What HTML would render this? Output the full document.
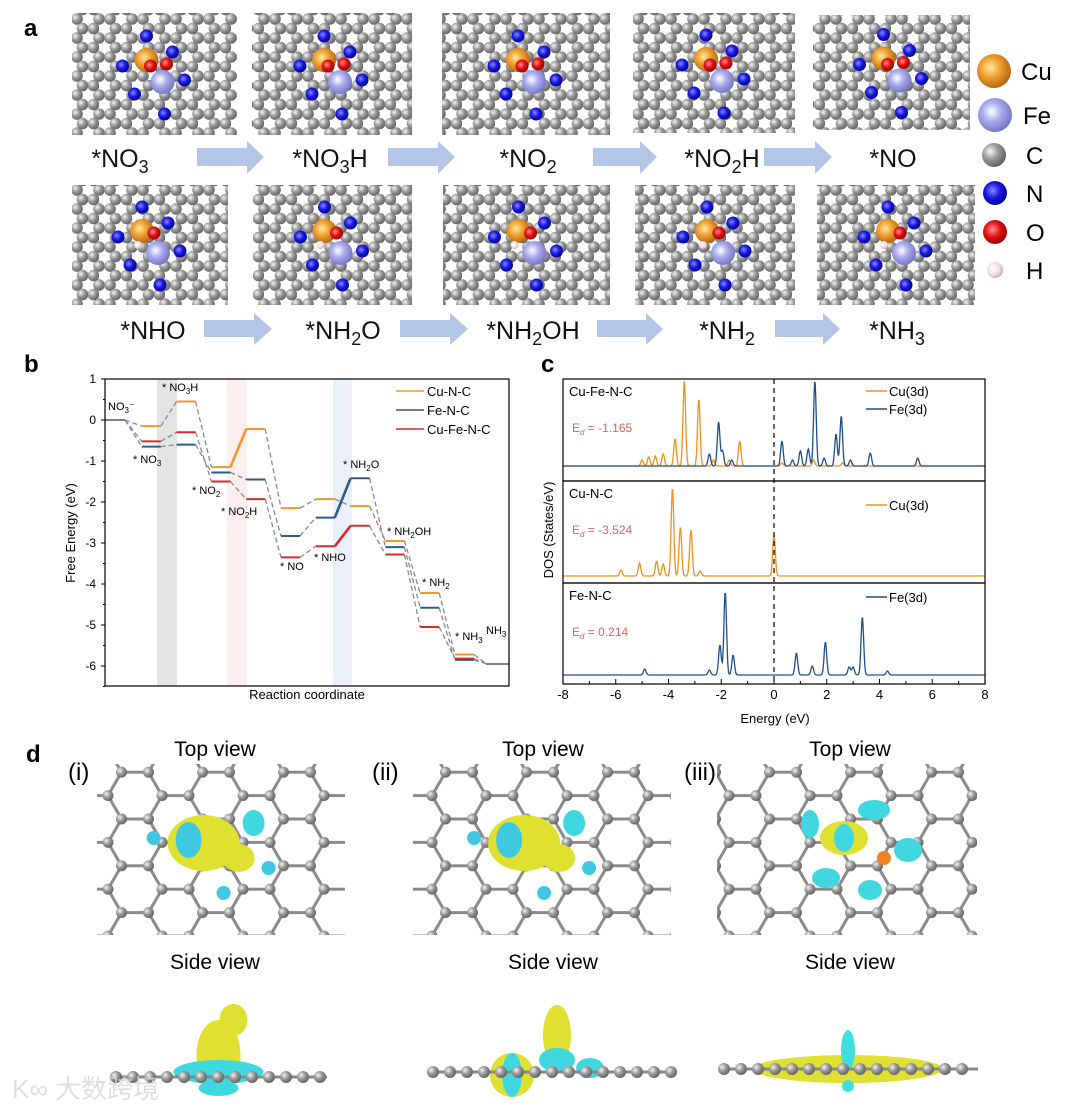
<!DOCTYPE html>
<html><head><meta charset="utf-8"><style>
html,body{margin:0;padding:0;background:#fff;}
svg{display:block;font-family:"Liberation Sans",Arial,sans-serif;}
</style></head><body>
<svg id="fig" width="1073" height="1106" viewBox="0 0 1073 1106" xmlns="http://www.w3.org/2000/svg">
<defs>
<radialGradient id="gC" cx="35%" cy="35%" r="65%"><stop offset="0" stop-color="#f4f4f4"/><stop offset="0.5" stop-color="#9a9a9a"/><stop offset="1" stop-color="#666"/></radialGradient>
<radialGradient id="gCu" cx="40%" cy="40%" r="65%"><stop offset="0" stop-color="#ffe9a0"/><stop offset="0.45" stop-color="#f0a030"/><stop offset="1" stop-color="#b06010"/></radialGradient>
<radialGradient id="gFe" cx="40%" cy="40%" r="65%"><stop offset="0" stop-color="#ffffff"/><stop offset="0.45" stop-color="#a8aaee"/><stop offset="1" stop-color="#7072c0"/></radialGradient>
<radialGradient id="gN" cx="40%" cy="40%" r="65%"><stop offset="0" stop-color="#8888ff"/><stop offset="0.5" stop-color="#1818e0"/><stop offset="1" stop-color="#000090"/></radialGradient>
<radialGradient id="gO" cx="40%" cy="40%" r="65%"><stop offset="0" stop-color="#ff9090"/><stop offset="0.5" stop-color="#e01010"/><stop offset="1" stop-color="#900000"/></radialGradient>
<radialGradient id="gH" cx="40%" cy="40%" r="65%"><stop offset="0" stop-color="#fff"/><stop offset="0.6" stop-color="#f2dcdc"/><stop offset="1" stop-color="#c8a8a8"/></radialGradient>
<pattern id="ball" width="33" height="19" patternUnits="userSpaceOnUse">
<circle cx="0" cy="0" r="5.8" fill="url(#gC)"/><circle cx="33" cy="0" r="5.8" fill="url(#gC)"/><circle cx="11" cy="0" r="5.8" fill="url(#gC)"/>
<circle cx="0" cy="19" r="5.8" fill="url(#gC)"/><circle cx="33" cy="19" r="5.8" fill="url(#gC)"/><circle cx="11" cy="19" r="5.8" fill="url(#gC)"/>
<circle cx="16.5" cy="9.5" r="5.8" fill="url(#gC)"/><circle cx="27.5" cy="9.5" r="5.8" fill="url(#gC)"/>
</pattern>
<pattern id="hex" width="81" height="46.8" patternUnits="userSpaceOnUse" x="0" y="0">
<g stroke="#8a8a8a" stroke-width="3" fill="none">
<line x1="0" y1="0" x2="27" y2="0"/><line x1="27" y1="0" x2="40.5" y2="23.4"/><line x1="40.5" y1="23.4" x2="67.5" y2="23.4"/><line x1="67.5" y1="23.4" x2="81" y2="0"/><line x1="67.5" y1="23.4" x2="81" y2="46.8"/><line x1="40.5" y1="23.4" x2="27" y2="46.8"/><line x1="0" y1="46.8" x2="27" y2="46.8"/><line x1="0" y1="0" x2="-13.5" y2="23.4"/><line x1="0" y1="46.8" x2="-13.5" y2="23.4"/>
</g>
<g fill="url(#gC)"><circle cx="0" cy="0" r="5.5"/><circle cx="27" cy="0" r="5.5"/><circle cx="81" cy="0" r="5.5"/><circle cx="40.5" cy="23.4" r="5.5"/><circle cx="67.5" cy="23.4" r="5.5"/><circle cx="0" cy="46.8" r="5.5"/><circle cx="27" cy="46.8" r="5.5"/><circle cx="81" cy="46.8" r="5.5"/></g>
</pattern>
</defs>

<!-- Panel a -->
<text x="24" y="36" font-size="24" font-weight="bold">a</text>
<g id="tiles"></g>
<g font-size="25" fill="#111">
<text x="120" y="167" text-anchor="middle">*NO<tspan font-size="18" dy="6">3</tspan></text>
<text x="330" y="167" text-anchor="middle">*NO<tspan font-size="18" dy="6">3</tspan><tspan dy="-6">H</tspan></text>
<text x="528" y="167" text-anchor="middle">*NO<tspan font-size="18" dy="6">2</tspan></text>
<text x="722" y="167" text-anchor="middle">*NO<tspan font-size="18" dy="6">2</tspan><tspan dy="-6">H</tspan></text>
<text x="893" y="167" text-anchor="middle">*NO</text>
<text x="153" y="339" text-anchor="middle">*NHO</text>
<text x="343" y="339" text-anchor="middle">*NH<tspan font-size="18" dy="6">2</tspan><tspan dy="-6">O</tspan></text>
<text x="533" y="339" text-anchor="middle">*NH<tspan font-size="18" dy="6">2</tspan><tspan dy="-6">OH</tspan></text>
<text x="727" y="339" text-anchor="middle">*NH<tspan font-size="18" dy="6">2</tspan></text>
<text x="897" y="339" text-anchor="middle">*NH<tspan font-size="18" dy="6">3</tspan></text>
</g>
<g fill="#b4c6e7">
<polygon points="197,148 247,148 247,141 264,157 247,174 247,166 197,166"/>
<polygon points="388,148 438,148 438,141 455,157 438,174 438,166 388,166"/>
<polygon points="593,148 640,148 640,141 657,157 640,174 640,166 593,166"/>
<polygon points="764,148 815,148 815,141 832,157 815,174 815,166 764,166"/>
<polygon points="204,320 254,320 254,313 272,329 254,345 254,337 204,337"/>
<polygon points="400,320 450,320 450,313 468,329 450,345 450,337 400,337"/>
<polygon points="597,320 646,320 646,313 663,329 646,345 646,337 597,337"/>
<polygon points="775,320 823,320 823,313 840,329 823,345 823,337 775,337"/>
</g>
<g font-size="24">
<circle cx="994" cy="71" r="17" fill="url(#gCu)"/><text x="1021" y="80">Cu</text>
<circle cx="995" cy="115" r="17" fill="url(#gFe)"/><text x="1023" y="124">Fe</text>
<circle cx="994" cy="155" r="12" fill="url(#gC)"/><text x="1026" y="164">C</text>
<circle cx="995" cy="193" r="12" fill="url(#gN)"/><text x="1026" y="202">N</text>
<circle cx="995" cy="232" r="12" fill="url(#gO)"/><text x="1026" y="241">O</text>
<circle cx="995" cy="270" r="8" fill="url(#gH)"/><text x="1026" y="279">H</text>
</g>

<!-- Panel b -->
<text x="24" y="372" font-size="24" font-weight="bold">b</text>
<g id="pb"></g>

<!-- Panel c -->
<text x="541" y="372" font-size="24" font-weight="bold">c</text>
<g id="pc"></g>

<!-- Panel d -->
<text x="26" y="762" font-size="24" font-weight="bold">d</text>
<g id="pd"></g>
<text x="12" y="1098" font-size="26" fill="#d8d8d8" opacity="0.8">K∞ 大数跨境</text>
</svg>
<script>
const NS="http://www.w3.org/2000/svg";
function mk(tag,attrs,parent){const e=document.createElementNS(NS,tag);for(const k in attrs)e.setAttribute(k,attrs[k]);if(parent)parent.appendChild(e);return e;}

/* ---------- panel a tiles ---------- */
const tileBoxes=[[72,13,165,122],[252,13,160,122],[442,13,168,122],[633,13,162,120],[813,15,157,115],
[72,185,156,120],[253,185,159,120],[443,185,167,120],[635,185,160,120],[817,185,158,120]];
const tilesG=document.getElementById('tiles');
tileBoxes.forEach((b,i)=>{
  const r=mk('rect',{x:b[0],y:b[1],width:b[2],height:b[3],fill:'url(#ball)'},tilesG);
  
  
  const cx=b[0]+b[2]*0.5, cy=b[1]+b[3]*0.5;
  mk('circle',{cx:cx-8,cy:cy-14,r:12,fill:'url(#gCu)'},tilesG);
  mk('circle',{cx:cx+8,cy:cy+8,r:12,fill:'url(#gFe)'},tilesG);
  [[-8,-38],[-32,-8],[18,-22],[30,6],[-20,20],[10,40]].forEach(p=>mk('circle',{cx:cx+p[0],cy:cy+p[1],r:6.5,fill:'url(#gN)'},tilesG));
  if(i<5){mk('circle',{cx:cx-4,cy:cy-8,r:6.5,fill:'url(#gO)'},tilesG);mk('circle',{cx:cx+12,cy:cy-10,r:6.5,fill:'url(#gO)'},tilesG);}
  else {mk('circle',{cx:cx+4,cy:cy-12,r:6.5,fill:'url(#gO)'},tilesG);mk('circle',{cx:cx-12,cy:cy,r:4,fill:'url(#gH)'},tilesG);}
});

/* ---------- panel b data ---------- */
const steps=["NO3-","*NO3","*NO3H","*NO2","*NO2H","*NO","*NHO","*NH2O","*NH2OH","*NH2","*NH3","NH3"];
const cuNC=[0,-0.15,0.45,-1.15,-0.22,-2.15,-1.93,-2.1,-2.95,-4.22,-5.72,-5.95];
const feNC=[0,-0.65,-0.6,-1.28,-1.45,-2.83,-2.38,-1.42,-3.1,-4.58,-5.85,-5.95];
const cuFeNC=[0,-0.52,-0.3,-1.5,-1.93,-3.35,-3.08,-2.58,-3.28,-5.05,-5.82,-5.95];
const yTicksB=[1,0,-1,-2,-3,-4,-5,-6];
const pbSeries=[{name:'Cu-N-C',v:cuNC,c:'#f0962a',solid:[3]},{name:'Fe-N-C',v:feNC,c:'#2e5a8a',solid:[6]},{name:'Cu-Fe-N-C',v:cuFeNC,c:'#d42a2a',solid:[6]}];
const B={l:105,r:509,t:379,b:686};
const by=v=>420-41*v;
const bx=i=>107+34.8*i;
const pb=document.getElementById('pb');
[[157,20,'#e4e4e4'],[227,20,'#fdeeee'],[333,19,'#eaf0fa']].forEach((s,i)=>{const r=mk('rect',{x:s[0],y:B.t,width:s[1],height:B.b-B.t,fill:s[2]},pb);});
pbSeries.forEach(s=>{
  for(let i=0;i<steps.length-1;i++){
    const x1=(i===0?125:bx(i)+19), x2=bx(i+1)+(i+1===steps.length-1?-3:0);
    const solid=s.solid.includes(i);
    const ln=mk('line',{x1:x1,y1:by(s.v[i]),x2:x2,y2:by(s.v[i+1]),stroke:solid?s.c:'#8a8a8a','stroke-width':solid?2.6:1.3,'stroke-dasharray':solid?'none':'5,3'},pb);
    
    
  }
});
pbSeries.forEach(s=>{
  for(let i=1;i<steps.length-1;i++){
    const ln=mk('line',{x1:bx(i),y1:by(s.v[i]),x2:bx(i)+19,y2:by(s.v[i]),stroke:s.c,'stroke-width':2},pb);
    
    
  }
});
[[105,125,0],[486,509,11]].forEach(a=>{const ln=mk('line',{x1:a[0],y1:by(cuNC[a[2]]),x2:a[1],y2:by(cuNC[a[2]]),stroke:'#808080','stroke-width':2},pb);});
const frame=mk('rect',{x:B.l,y:B.t,width:B.r-B.l,height:B.b-B.t,fill:'none',stroke:'#000','stroke-width':1.2},pb);

yTicksB.forEach(v=>{
  mk('line',{x1:B.l,y1:by(v),x2:B.l-4,y2:by(v),stroke:'#000'},pb);
  const t=mk('text',{x:B.l-9,y:by(v)+4,'font-size':12,'text-anchor':'end'},pb);t.textContent=v;
  
  mk('line',{x1:B.l,y1:by(v-0.5),x2:B.l-2,y2:by(v-0.5),stroke:'#000'},pb);
});
let t=mk('text',{x:0,y:0,'font-size':13,'text-anchor':'middle',transform:'translate(75,533) rotate(-90)'},pb);t.textContent='Free Energy (eV)';

t=mk('text',{x:307,y:699,'font-size':13,'text-anchor':'middle'},pb);t.textContent='Reaction coordinate';

const stepLabels=[["NO3⁻",108,410],["* NO3",133,463],["* NO3H",162,391],["* NO2",192,494],["* NO2H",221,515],["* NO",280,570],["* NHO",314,561],["* NH2O",343,468],["* NH2OH",387,535],["* NH2",422,586],["* NH3",455,640],["NH3",486,634]];
stepLabels.forEach(s=>{
  const tx=mk('text',{x:s[1],y:s[2],'font-size':11},pb);
  const m=s[0].match(/^(.*?)(\d)(.*)$/);
  if(m){tx.textContent=m[1];const sub=mk('tspan',{'font-size':8,dy:3},tx);sub.textContent=m[2];const rest=mk('tspan',{dy:-3},tx);rest.textContent=m[3];}
  else tx.textContent=s[0];
  
});
pbSeries.forEach((s,i)=>{
  const y=391+i*19;
  mk('line',{x1:396,y1:y,x2:424,y2:y,stroke:s.c,'stroke-width':1.4},pb);
  const tx=mk('text',{x:427,y:y+5,'font-size':13},pb);tx.textContent=s.name;
  
});

/* ---------- panel c data ---------- */
const xTicksC=[-8,-6,-4,-2,0,2,4,6,8];
const topCuE=[-5.0,-4.75,-4.5,-4.2,-3.75,-3.4,-2.85,-2.3,-1.7,-1.3,0.3,1.5,2.6];
const topCuH=[6,9,10,12,27,85,67,6,6,25,3,6,3];
const topFeE=[-2.45,-2.1,-1.95,-1.6,0.3,0.7,1.0,1.3,1.55,1.9,2.35,2.55,2.9,3.65,5.45];
const topFeH=[12,44,15,6,25,6,15,17,85,8,32,50,6,13,8];
const midCuE=[-5.8,-5.1,-4.45,-4.2,-3.85,-3.55,-3.15,-2.8,0.0];
const midCuH=[6,13,15,12,88,49,46,5,41];
const botFeE=[-4.9,-2.45,-2.05,-1.85,-1.55,0.85,1.45,1.95,2.85,3.0,3.35,4.3];
const botFeH=[6,5,30,83,20,22,9,33,8,8,58,4];
const C={l:563,r:985};
const cx=e=>774+26.375*e;
const panels=[{t:379,b:481,base:466,label:'Cu-Fe-N-C',edv:' = -1.165',ser:[[topCuE,topCuH,'#f0901e'],[topFeE,topFeH,'#1f4e8f']],leg:[['Cu(3d)','#f0901e'],['Fe(3d)','#1f4e8f']]},
{t:481,b:583,base:576,label:'Cu-N-C',edv:' = -3.524',ser:[[midCuE,midCuH,'#f0901e']],leg:[['Cu(3d)','#f0901e']]},
{t:583,b:684,base:675,label:'Fe-N-C',edv:' = 0.214',ser:[[botFeE,botFeH,'#1f4e8f']],leg:[['Fe(3d)','#1f4e8f']]}];
const pc=document.getElementById('pc');
panels.forEach((p,pi)=>{
  p.ser.forEach(s=>{
    const E=s[0],H=s[1];let d='';
    for(let e=-8;e<=8.001;e+=0.02){
      let h=0;for(let k=0;k<E.length;k++){const z=(e-E[k])/0.07;h+=H[k]*Math.exp(-z*z);}
      d+=(d?'L':'M')+cx(e).toFixed(1)+','+(p.base-h).toFixed(1);
    }
    const path=mk('path',{d:d,fill:'none',stroke:s[2],'stroke-width':1.3},pc);
    
  });
  const tx=mk('text',{x:569,y:p.t+17,'font-size':13},pc);tx.textContent=p.label;
  
  const ed=mk('text',{x:572,y:p.t+53,'font-size':12,fill:'#e06060'},pc);ed.textContent='E';
  const sb=mk('tspan',{'font-size':8,dy:3,'font-style':'italic'},ed);sb.textContent='d';
  const rs=mk('tspan',{dy:-3},ed);rs.textContent=p.edv;
  
  p.leg.forEach((l,li)=>{
    const y=p.t+(pi===0?12:(pi===1?24:14))+li*18;
    mk('line',{x1:866,y1:y,x2:887,y2:y,stroke:l[1],'stroke-width':1.4},pc);
    const lt=mk('text',{x:889,y:y+5,'font-size':13},pc);lt.textContent=l[0];
    
  });
  const fr=mk('rect',{x:C.l,y:p.t,width:C.r-C.l,height:p.b-p.t,fill:'none',stroke:'#000','stroke-width':1.2},pc);
  
});
mk('line',{x1:cx(0),y1:379,x2:cx(0),y2:684,stroke:'#000','stroke-dasharray':'5,4','stroke-width':1.2},pc);
xTicksC.forEach(v=>{
  mk('line',{x1:cx(v),y1:684,x2:cx(v),y2:679,stroke:'#000'},pc);
  if(v<8)mk('line',{x1:cx(v+1),y1:684,x2:cx(v+1),y2:681,stroke:'#000'},pc);
  const tl=mk('text',{x:cx(v),y:699,'font-size':13,'text-anchor':'middle'},pc);tl.textContent=v;
  
});
t=mk('text',{x:775,y:723,'font-size':13,'text-anchor':'middle'},pc);t.textContent='Energy (eV)';

t=mk('text',{x:0,y:0,'font-size':13,'text-anchor':'middle',transform:'translate(553,530) rotate(-90)'},pc);t.textContent='DOS (States/eV)';


/* ---------- panel d ---------- */
const pd=document.getElementById('pd');
const views=[{x:97,w:248,tx:215,lab:'(i)',lx:68,sl:110,sr:327,sy:1077,scx:215},{x:413,w:258,tx:543,lab:'(ii)',lx:372,sl:427,sr:673,sy:1072,scx:553},{x:717,w:260,tx:850,lab:'(iii)',lx:684,sl:718,sr:978,sy:1069,scx:850}];
views.forEach((v,i)=>{
  let tt=mk('text',{x:v.tx,y:756,'font-size':21,'text-anchor':'middle'},pd);tt.textContent='Top view';
  
  tt=mk('text',{x:v.lx,y:780,'font-size':24},pd);tt.textContent=v.lab;
  
  tt=mk('text',{x:v.scx,y:969,'font-size':21,'text-anchor':'middle'},pd);tt.textContent='Side view';
  
  const r=mk('rect',{x:v.x,y:764,width:v.w,height:171,fill:'url(#hex)'},pd);
  
  const c0=v.x+v.w*0.45, c1=848;
  const g=mk('g',{},pd);
  if(i===2){
    [[c0+10,c1-10,24,17,'#e0e030'],[c0+10,c1-10,10,14,'#40d8e0'],[c0-24,c1-24,9,14,'#40d8e0'],[c0+74,c1+2,14,12,'#40d8e0'],[c0+40,c1-38,16,10,'#40d8e0'],[c0-8,c1+30,14,10,'#40d8e0'],[c0+36,c1+42,12,10,'#40d8e0']].forEach(e=>mk('ellipse',{cx:e[0],cy:e[1],rx:e[2],ry:e[3],fill:e[4]},g));
    mk('circle',{cx:c0+50,cy:c1+10,r:7,fill:'#f08020'},g);
  } else {
    [[c0-5,c1-5,36,28,'#e0e030'],[c0-20,c1-8,13,18,'#40c8e0'],[c0+30,c1+10,16,14,'#e0e030'],[c0+45,c1-25,11,13,'#40d8e0'],[c0-55,c1-10,7,7,'#40c8e0'],[c0+60,c1+20,7,7,'#40c8e0'],[c0+15,c1+45,7,7,'#40c8e0']].forEach(e=>mk('ellipse',{cx:e[0],cy:e[1],rx:e[2],ry:e[3],fill:e[4]},g));
  }
  
  const sg=mk('g',{},pd);
  
  const mid=(v.sl+v.sr)/2;
  if(i===0){[[mid,1055,22,35,'#e0e030'],[mid+15,1020,14,16,'#e0e030'],[mid,1072,45,12,'#40d8e0'],[mid,1088,20,8,'#40d8e0']].forEach(e=>mk('ellipse',{cx:e[0],cy:e[1],rx:e[2],ry:e[3],fill:e[4]},sg));}
  if(i===1){[[mid+7,1035,14,30,'#e0e030'],[mid+7,1060,18,12,'#40d8e0'],[mid-38,1075,22,22,'#e0e030'],[mid-38,1075,10,22,'#40d8e0'],[mid+40,1068,14,10,'#40d8e0']].forEach(e=>mk('ellipse',{cx:e[0],cy:e[1],rx:e[2],ry:e[3],fill:e[4]},sg));}
  if(i===2){[[mid,1069,95,14,'#e0e030'],[mid,1050,7,20,'#40e0e0'],[mid,1086,6,6,'#40e0e0']].forEach(e=>mk('ellipse',{cx:e[0],cy:e[1],rx:e[2],ry:e[3],fill:e[4]},sg));}
  mk('line',{x1:v.sl,y1:v.sy,x2:v.sr,y2:v.sy,stroke:'#888','stroke-width':3},sg);
  for(let x=v.sl+6;x<v.sr;x+=17)mk('circle',{cx:x,cy:v.sy,r:6,fill:'url(#gC)'},sg);
});
</script>
</body></html>
